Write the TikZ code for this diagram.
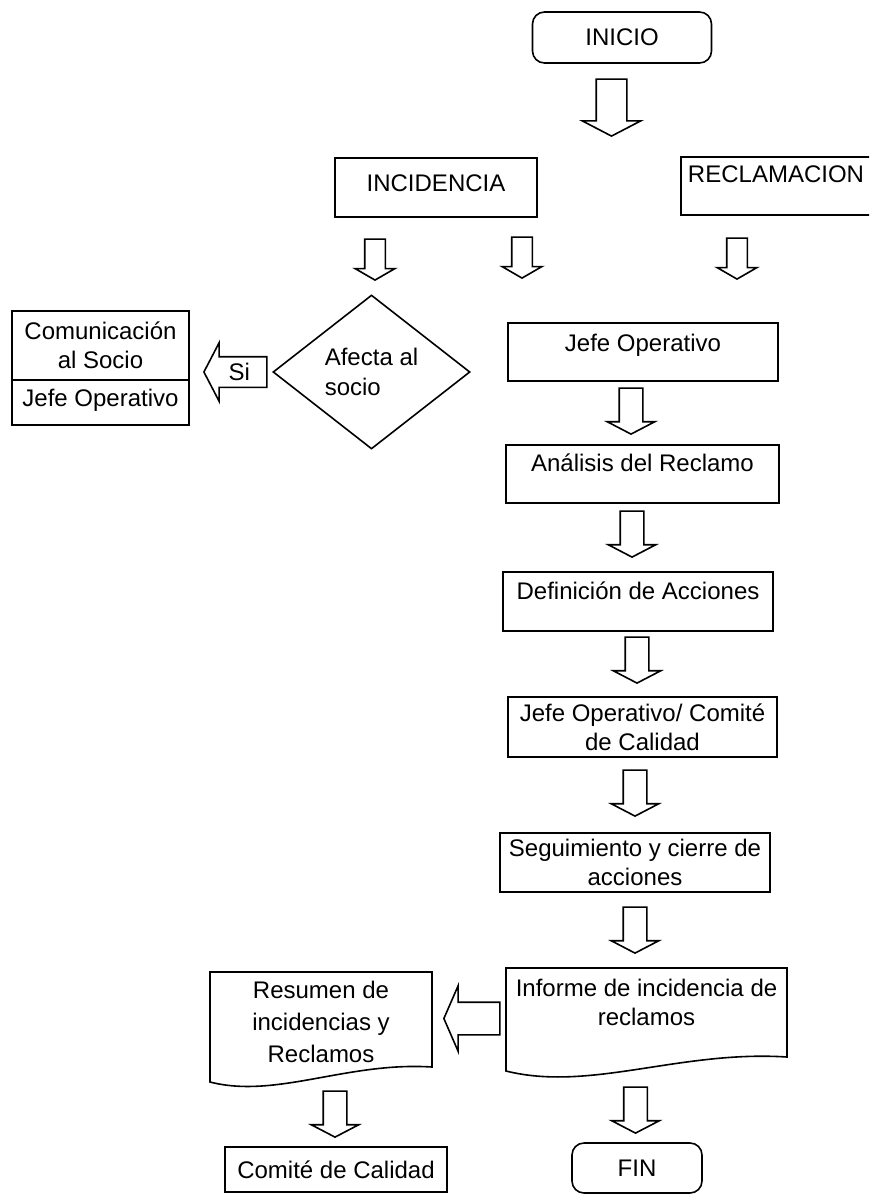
\documentclass[tikz,border=0pt]{standalone}
\usepackage{fontspec}
\setmainfont{Liberation Sans}
\usetikzlibrary{shapes.geometric,shapes.arrows}

\begin{document}
\begin{tikzpicture}[x=0.75pt,y=-0.75pt,line width=1.2pt,
        every node/.style={font=\fontsize{18}{22}\selectfont, inner sep=0pt},
        caja/.style={rectangle, draw, align=center},
        inicio fin/.style={rectangle, rounded corners=9pt, draw},
        decision/.style={diamond, draw, align=left},
        flecha/.style={single arrow, draw, anchor=tip, single arrow tip angle=125,
            text height=0pt, text depth=0pt},
        baja/.style={flecha, shape border rotate=270},
        chica/.style={baja, minimum height=30.75pt, inner xsep=7.125pt,
            single arrow head extend=7.125pt, single arrow tip angle=120},
        media/.style={baja, minimum height=34.5pt, inner xsep=8.25pt,
            single arrow head extend=9pt}]

    \useasboundingbox (0,0) rectangle (869,1194);
    \clip (0,0) rectangle (869,1194);

    % inicio y ramas
    \node[inicio fin, minimum width=134.25pt, minimum height=38.25pt] (inicio) at (622,37.5) {INICIO};
    \node[baja, minimum height=42.75pt, inner xsep=10.875pt, single arrow head extend=10.5pt] (f0) at (611.5,137) {};
    \node[caja, minimum width=151.5pt, text height=25.2pt, text depth=19.05pt] (incid) at (436,187.5) {INCIDENCIA};
    \node[caja, minimum width=142.5pt, text height=19.2pt, text depth=24.3pt] (reclam) at (776,186) {RECLAMACION};

    \node[chica] (f1) at (375,281) {};
    \node[chica] (f2) at (522,279) {};
    \node[chica] (f3) at (737,280) {};

    % incidencia
    \node[decision, minimum width=147.75pt, minimum height=115.5pt] (afecta) at (371.5,372) {Afecta al\\socio};
    \node[flecha, shape border rotate=180, minimum height=47.25pt, text height=13pt, inner ysep=4.375pt,
        single arrow head extend=10.5pt] (fsi) at (203,372) {Si};
    \node[caja, minimum width=132.75pt, minimum height=51.75pt] (comun) at (100.5,345.5) {Comunicación\\al Socio};
    \node[caja, minimum width=132.75pt, text height=19.95pt, text depth=13.8pt] (respon) at (100.5,402.5) {Jefe Operativo};

    % reclamacion
    \node[caja, minimum width=202.5pt, text height=21.45pt, text depth=22.05pt] (jefe) at (643,352) {Jefe Operativo};
    \node[media] (f4) at (631,435) {};
    \node[caja, minimum width=204.75pt, text height=19.95pt, text depth=23.55pt] (analisis) at (642.5,474) {Análisis del Reclamo};
    \node[media] (f5) at (632,558) {};
    \node[caja, minimum width=202.5pt, text height=20.7pt, text depth=23.55pt] (defin) at (638,601.5) {Definición de Acciones};
    \node[media] (f6) at (637,684) {};
    \node[caja, minimum width=201.75pt, minimum height=45pt] (jefecom) at (642.5,727) {Jefe Operativo/ Comité\\de Calidad};
    \node[media] (f7) at (635,817) {};
    \node[caja, minimum width=202.5pt, minimum height=44.25pt] (seguim) at (635,862.5) {Seguimiento y cierre de\\acciones};
    \node[media] (f8) at (635,954) {};

    % informes
    \node[align=center] (informe) at (646.5,1002.5) {Informe de incidencia de\\reclamos};
    \draw (506,1071) -- (506,968) -- (787,968) -- (787,1057)
        .. controls (680,1050) and (590,1092) .. (506,1071) -- cycle;
    \node[flecha, shape border rotate=180, minimum height=42pt, inner ysep=11.625pt,
        single arrow head extend=12.375pt, single arrow tip angle=133] (fres) at (443,1018.5) {};
    \node[align=center, font=\fontsize{18}{24}\selectfont] (resumen) at (321,1022) {Resumen de\\incidencias y\\Reclamos};
    \draw (210,1082) -- (210,972) -- (432,972) -- (432,1067)
        .. controls (347,1061.5) and (276,1099) .. (210,1082) -- cycle;

    % cierre
    \node[media] (f9) at (635.5,1134) {};
    \node[inicio fin, minimum width=97.5pt, minimum height=37.5pt] (fin) at (637,1168) {FIN};
    \node[media] (f10) at (335,1138) {};
    \node[caja, minimum width=166.5pt, minimum height=33.75pt] (comite) at (336,1169.5) {Comité de Calidad};

\end{tikzpicture}
\end{document}
